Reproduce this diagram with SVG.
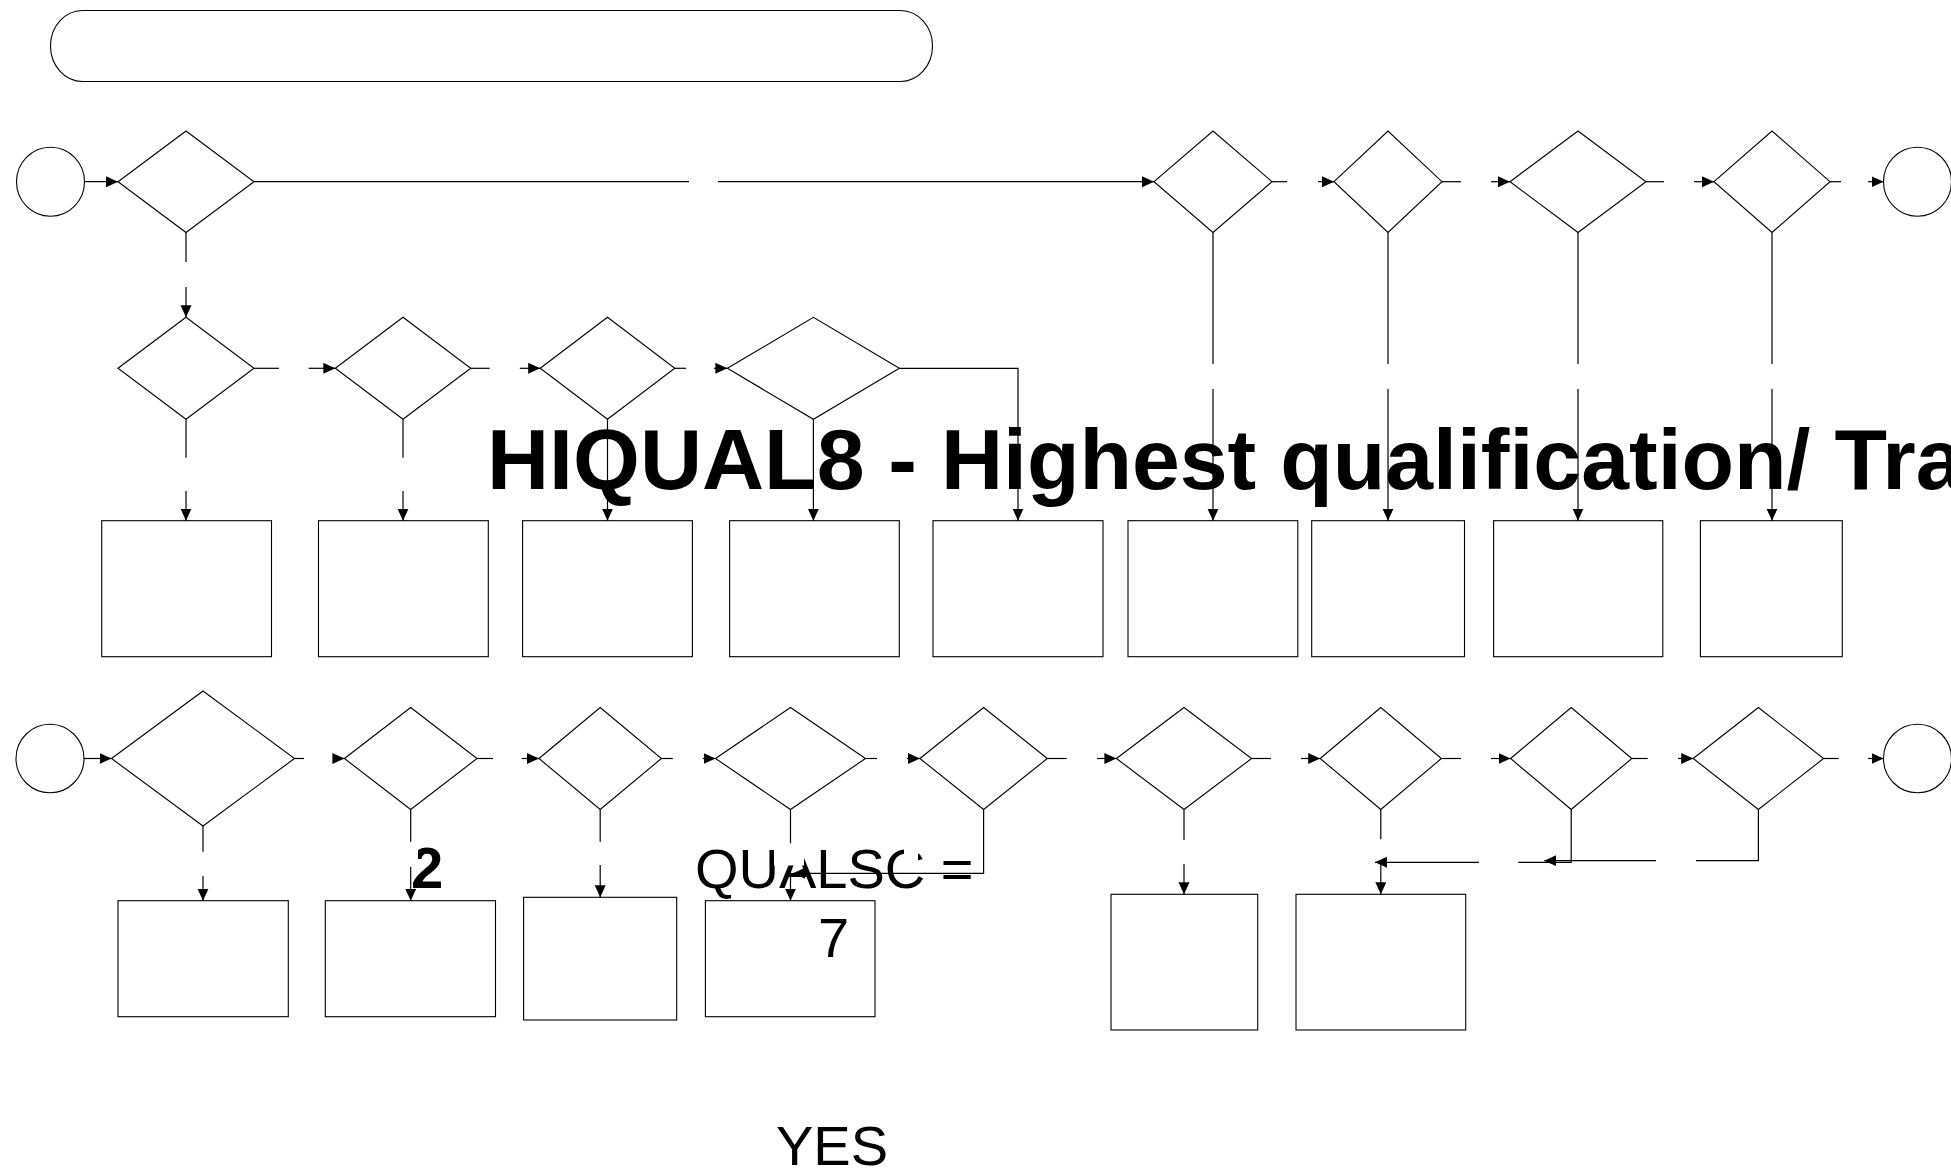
<svg xmlns="http://www.w3.org/2000/svg" width="1951" height="1171" viewBox="0 0 1951 1171">
<style>
.n{fill:#fff;stroke:#000;stroke-width:1.1}
.c{fill:none;stroke:#000;stroke-width:1.2}
.a{marker-end:url(#ah)}
.t{font-family:"Liberation Sans",Arial,sans-serif;fill:#000}
.m{fill:#fff;stroke:none}
</style>
<defs>
<marker id="ah" markerUnits="userSpaceOnUse" markerWidth="13" markerHeight="12" refX="12" refY="5.5" orient="auto">
<path d="M0,0 L12,5.5 L0,11 Z" fill="#000"/>
</marker>
</defs>
<rect width="1951" height="1171" fill="#fff"/>

<g id="header"><rect class="n" x="50.5" y="10.5" width="882" height="71" rx="32" ry="35.5"/></g>

<g id="row1">
<g id="r1-start"><ellipse class="n" cx="50.5" cy="181.7" rx="34" ry="34.5"/></g>
<g id="r1-d1"><polygon class="n" points="118,181.7 186,131 254,181.7 186,232.5"/></g>
<g id="r1-dA"><polygon class="n" points="1154,181.7 1213,131 1272,181.7 1213,232.5"/></g>
<g id="r1-dB"><polygon class="n" points="1334,181.7 1388,131 1442,181.7 1388,232.5"/></g>
<g id="r1-dC"><polygon class="n" points="1510,181.7 1578,131 1646,181.7 1578,232.5"/></g>
<g id="r1-dD"><polygon class="n" points="1714,181.7 1772,131 1830,181.7 1772,232.5"/></g>
<g id="r1-end"><ellipse class="n" cx="1917.5" cy="181.7" rx="34" ry="34.5"/></g>
</g>

<g id="row2">
<g id="r2-d1"><polygon class="n" points="118,368.3 186,317.3 254,368.3 186,419.3"/></g>
<g id="r2-d2"><polygon class="n" points="335.3,368.3 403,317.3 470.7,368.3 403,419.3"/></g>
<g id="r2-d3"><polygon class="n" points="540.2,368.3 607.5,317.3 674.8,368.3 607.5,419.3"/></g>
<g id="r2-d4"><polygon class="n" points="727.4,368.3 813.4,317.3 899.4,368.3 813.4,419.3"/></g>
</g>

<g id="row3">
<g id="r3-b1"><rect class="n" x="101.7" y="520.7" width="169.8" height="136"/></g>
<g id="r3-b2"><rect class="n" x="318.5" y="520.7" width="169.8" height="136"/></g>
<g id="r3-b3"><rect class="n" x="522.6" y="520.7" width="169.8" height="136"/></g>
<g id="r3-b4"><rect class="n" x="729.6" y="520.7" width="169.7" height="136"/></g>
<g id="r3-b5"><rect class="n" x="933" y="520.7" width="170" height="136"/></g>
<g id="r3-b6"><rect class="n" x="1128" y="520.7" width="169.8" height="136"/></g>
<g id="r3-b7"><rect class="n" x="1311.7" y="520.7" width="152.8" height="136"/></g>
<g id="r3-b8"><rect class="n" x="1493.6" y="520.7" width="169.2" height="136"/></g>
<g id="r3-b9"><rect class="n" x="1700.4" y="520.7" width="141.9" height="136"/></g>
</g>

<g id="row4">
<g id="r4-start"><ellipse class="n" cx="50" cy="758.5" rx="34" ry="34.3"/></g>
<g id="r4-d1"><polygon class="n" points="111.5,758.5 203,691 294.5,758.5 203,826"/></g>
<g id="r4-d2"><polygon class="n" points="344.4,758.5 410.7,707.5 477,758.5 410.7,809.5"/></g>
<g id="r4-d3"><polygon class="n" points="539,758.5 600.2,707.5 661.4,758.5 600.2,809.5"/></g>
<g id="r4-d4"><polygon class="n" points="715.5,758.5 790.5,707.5 865.5,758.5 790.5,809.5"/></g>
<g id="r4-d5"><polygon class="n" points="919.9,758.5 983.6,707.5 1047.3,758.5 983.6,809.5"/></g>
<g id="r4-d6"><polygon class="n" points="1116.4,758.5 1184,707.5 1251.6,758.5 1184,809.5"/></g>
<g id="r4-d7"><polygon class="n" points="1320.2,758.5 1380.8,707.5 1441.4,758.5 1380.8,809.5"/></g>
<g id="r4-d8"><polygon class="n" points="1510.6,758.5 1571.2,707.5 1631.8,758.5 1571.2,809.5"/></g>
<g id="r4-d9"><polygon class="n" points="1693.2,758.5 1758.4,707.5 1823.6,758.5 1758.4,809.5"/></g>
<g id="r4-end"><ellipse class="n" cx="1917.5" cy="758.5" rx="34" ry="34.3"/></g>
</g>

<g id="row5">
<g id="r5-b1"><rect class="n" x="118" y="900.7" width="170.3" height="116"/></g>
<g id="r5-b2"><rect class="n" x="325.3" y="900.7" width="170.2" height="116"/></g>
<g id="r5-b3"><rect class="n" x="523.6" y="897.3" width="153.1" height="122.7"/></g>
<g id="r5-b4"><rect class="n" x="705.4" y="900.7" width="169.6" height="116"/></g>
<g id="r5-b5"><rect class="n" x="1111" y="894.3" width="146.7" height="135.7"/></g>
<g id="r5-b6"><rect class="n" x="1296" y="894.3" width="169.7" height="135.7"/></g>
</g>

<g id="texts">
<text class="t" x="487" y="489" font-size="86" font-weight="bold">HIQUAL8 - Highest qualification/ Training</text>
<text class="t" x="411" y="888" font-size="58" font-weight="bold">2</text>
<text class="t" x="695" y="888" font-size="56">QUALSC =</text>
<text class="t" x="818" y="957" font-size="56">7</text>
<text class="t" x="776" y="1165" font-size="56">YES</text>
</g>

<g id="label-masks">
<rect class="m" x="400" y="842" width="18" height="24.5"/>
<rect class="m" x="774" y="843.5" width="30" height="22"/>
<rect class="m" x="904" y="848" width="14" height="24"/>
</g>

<g id="connectors">
<path class="c a" d="M84.5,181.7 H118"/>
<path class="c" d="M254,181.7 H689"/>
<path class="c a" d="M718,181.7 H1154"/>
<path class="c" d="M1272,181.7 H1287"/>
<path class="c a" d="M1318,181.7 H1334"/>
<path class="c" d="M1442,181.7 H1461"/>
<path class="c a" d="M1491,181.7 H1510"/>
<path class="c" d="M1646,181.7 H1664"/>
<path class="c a" d="M1694,181.7 H1714"/>
<path class="c" d="M1830,181.7 H1841"/>
<path class="c a" d="M1868,181.7 H1883.5"/>
<path class="c" d="M186,232.5 V262"/>
<path class="c a" d="M186,287 V317.3"/>
<path class="c" d="M1213,232.5 V364"/>
<path class="c a" d="M1213,389 V520.7"/>
<path class="c" d="M1388,232.5 V364"/>
<path class="c a" d="M1388,389 V520.7"/>
<path class="c" d="M1578,232.5 V364"/>
<path class="c a" d="M1578,389 V520.7"/>
<path class="c" d="M1772,232.5 V364"/>
<path class="c a" d="M1772,389 V520.7"/>

<path class="c" d="M254,368.3 H279"/>
<path class="c a" d="M308.7,368.3 H335.3"/>
<path class="c" d="M470.7,368.3 H489.7"/>
<path class="c a" d="M519.8,368.3 H540.2"/>
<path class="c" d="M674.8,368.3 H686"/>
<path class="c a" d="M714,368.3 H727.4"/>
<path class="c a" d="M899.4,368.3 H1018 V520.7"/>
<path class="c" d="M186,419.3 V457.7"/>
<path class="c a" d="M186,491 V520.7"/>
<path class="c" d="M403,419.3 V457.7"/>
<path class="c a" d="M403,491 V520.7"/>
<path class="c a" d="M607.5,419.3 V520.7"/>
<path class="c a" d="M813.4,419.3 V520.7"/>

<path class="c a" d="M84,758.5 H111.5"/>
<path class="c" d="M294.5,758.5 H304"/>
<path class="c a" d="M333,758.5 H344.4"/>
<path class="c" d="M477,758.5 H493"/>
<path class="c a" d="M521.7,758.5 H539"/>
<path class="c" d="M661.4,758.5 H672.8"/>
<path class="c a" d="M702.8,758.5 H715.5"/>
<path class="c" d="M865.5,758.5 H877"/>
<path class="c a" d="M907,758.5 H919.9"/>
<path class="c" d="M1047.3,758.5 H1066.7"/>
<path class="c a" d="M1097,758.5 H1116.4"/>
<path class="c" d="M1251.6,758.5 H1271"/>
<path class="c a" d="M1301,758.5 H1320.2"/>
<path class="c" d="M1441.4,758.5 H1461"/>
<path class="c a" d="M1491,758.5 H1510.6"/>
<path class="c" d="M1631.8,758.5 H1647.7"/>
<path class="c a" d="M1678,758.5 H1693.2"/>
<path class="c" d="M1823.6,758.5 H1838.7"/>
<path class="c a" d="M1868,758.5 H1883.5"/>

<path class="c" d="M203,826 V851.7"/>
<path class="c a" d="M203,876 V900.7"/>
<path class="c" d="M410.7,809.5 V841.7"/>
<path class="c a" d="M410.7,866.7 V900.7"/>
<path class="c" d="M600.2,809.5 V841.7"/>
<path class="c a" d="M600.2,865 V897.3"/>
<path class="c" d="M790.5,809.5 V843.3"/>
<path class="c a" d="M790.5,866 V900.7"/>
<path class="c a" d="M983.6,809.5 V873.3 H793"/>
<path class="c" d="M1184,809.5 V840"/>
<path class="c a" d="M1184,864 V894.3"/>
<path class="c" d="M1380.8,809.5 V839.3"/>
<path class="c a" d="M1380.8,864 V894.3"/>
<path class="c" d="M1571.2,809.5 V862.3 H1518.3"/>
<path class="c a" d="M1479,862.3 H1375"/>
<path class="c" d="M1758.4,809.5 V860.7 H1696"/>
<path class="c a" d="M1656,860.7 H1544.3"/>
</g>
</svg>
